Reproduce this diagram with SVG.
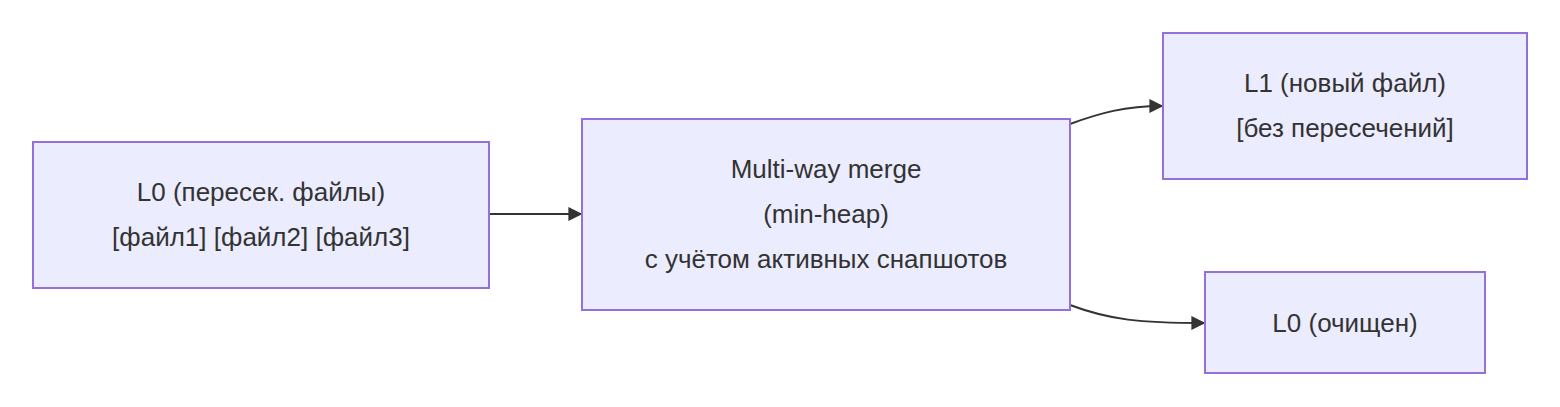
<svg xmlns="http://www.w3.org/2000/svg" width="1560" height="407" viewBox="0 0 1560 407">
<style>
.n rect{fill:#ECECFF;stroke:#9370DB;stroke-width:2}
.n text{font-family:"Liberation Sans",Arial,sans-serif;font-size:26px;fill:#333;text-anchor:middle}
.e path{fill:none;stroke:#333;stroke-width:2;marker-end:url(#ah)}
</style>
<defs>
<marker id="ah" viewBox="0 0 10 10" refX="9" refY="5" markerWidth="8" markerHeight="8" orient="auto" markerUnits="userSpaceOnUse"><path d="M0,0L10,5L0,10z" fill="#333"/></marker>
<marker id="ah2" viewBox="0 0 10 10" refX="9" refY="5" markerWidth="14" markerHeight="14" orient="auto" markerUnits="userSpaceOnUse"><path d="M0,0L10,5L0,10z" fill="#333"/></marker>
<clipPath id="cb"><rect x="583" y="120" width="431" height="190"/></clipPath>
</defs>
<g class="e" id="edges">
<path d="M489,214H581" style="marker-end:url(#ah2)"/>
<path d="M1070,124C1100,113 1125,106 1162,106" style="marker-end:url(#ah2)"/>
<path d="M1070,305C1110,320 1140,323 1204,323" style="marker-end:url(#ah2)"/>
</g>
<g class="n" id="A"><rect x="33" y="142" width="456" height="146"/>
<text x="261" y="201">L0 (пересек. файлы)</text><text x="261" y="246">[файл1] [файл2] [файл3]</text></g>
<g class="n" id="B"><rect x="582" y="119" width="488" height="191"/>
<text x="826" y="178">Multi-way merge</text><text x="826" y="223">(min-heap)</text><text x="826" y="268" clip-path="url(#cb)">с учётом активных снапшотов</text></g>
<g class="n" id="C"><rect x="1163" y="33" width="364" height="146"/>
<text x="1345" y="92">L1 (новый файл)</text><text x="1345" y="137">[без пересечений]</text></g>
<g class="n" id="D"><rect x="1205" y="272" width="280" height="101"/>
<text x="1345" y="332">L0 (очищен)</text></g>
</svg>
